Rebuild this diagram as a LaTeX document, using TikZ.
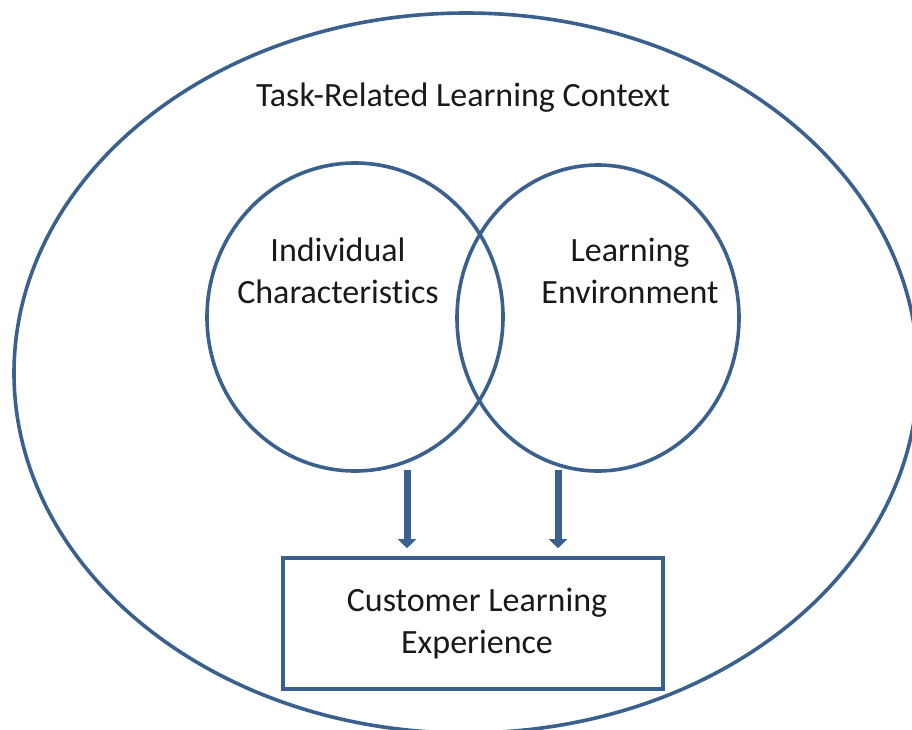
\documentclass[tikz,border=0pt]{standalone}
\usepackage{fontspec}
\setmainfont[Ligatures=NoCommon]{Carlito}
\usetikzlibrary{shapes.geometric,arrows.meta}
\definecolor{lineblue}{RGB}{58,96,142}
\begin{document}
\begin{tikzpicture}[x=1pt,y=-1pt,
  outline/.style={draw=lineblue,line width=3.6pt,inner sep=0pt},
  oval/.style={outline,ellipse},
  label/.style={font=\fontsize{34}{42}\selectfont,align=center,text=black!90,inner sep=0pt},
  arr/.style={draw=lineblue,line width=7pt,-{Triangle[width=18pt,length=9pt]}}]
  \useasboundingbox (0,0) rectangle (912,729);
  \clip (0,0) rectangle (912,729);
  % enclosing context
  \node[oval,minimum width=904pt,minimum height=720pt] (ctx) at (466,373) {};
  \node[label] (ctxtext) at (463,98) {Task-Related Learning Context};
  % overlapping factors
  \node[oval,minimum width=296pt,minimum height=308pt] (lc) at (355,317) {};
  \node[oval,minimum width=282pt,minimum height=306pt] (rc) at (598,318) {};
  \node[label] (lctext) at (338,271) {Individual\\Characteristics};
  \node[label] (rctext) at (630,271) {Learning\\Environment};
  % outcome
  \node[outline,rectangle,minimum width=380pt,minimum height=131pt,label] (box) at (473,623.5) {\hspace*{8pt}Customer Learning\\\hspace*{8pt}Experience};
  % influences
  \coordinate (a1) at (407,470);
  \coordinate (a2) at (558,470);
  \draw[arr] (a1) -- ([yshift=8pt]a1 |- box.north);
  \draw[arr] (a2) -- ([yshift=8pt]a2 |- box.north);
\end{tikzpicture}
\end{document}
